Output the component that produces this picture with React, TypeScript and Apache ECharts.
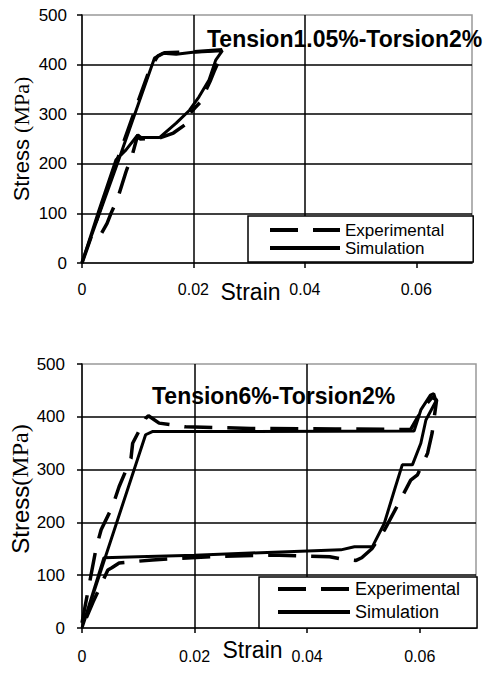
import { useEffect, useRef } from "react";
import * as echarts from "echarts";

const FONT = "'Liberation Sans', Arial, sans-serif";
const SERIF = "'Liberation Serif', 'Times New Roman', serif";

const strainTicks = [0, 0.02, 0.04, 0.06];
const seriesNames = ["Experimental", "Simulation"];
const titleTop = "Tension1.05%-Torsion2%";
const titleBottom = "Tension6%-Torsion2%";

// Top chart: Tension 1.05% - Torsion 2%
const simTop: [number, number][] = [
  [0, 2], [0.0065, 205], [0.013, 413], [0.0145, 423], [0.0169, 421], [0.0199, 425],
  [0.0252, 428], [0.024, 409], [0.0228, 369], [0.021, 335], [0.0193, 308],
  [0.0169, 282], [0.0139, 253], [0.0106, 253], [0.01, 258], [0.0079, 228],
  [0.0061, 208], [0.003, 105], [0, 0],
];
const expTopUpper: [number, number][] = [
  [0, 0], [0.0015, 48], [0.0045, 150], [0.0102, 330], [0.0122, 392], [0.0136, 417],
  [0.0148, 424], [0.02, 426], [0.0252, 430], [0.0246, 409], [0.0237, 386],
  [0.0231, 369], [0.0213, 325], [0.0202, 312], [0.0195, 303],
];
const expTopLower: [number, number][] = [
  [0.0184, 278], [0.0164, 262], [0.0139, 252], [0.0104, 250], [0.01, 258],
  [0.0091, 221], [0.0079, 184], [0.0064, 130], [0.0052, 100], [0.0045, 80], [0.0028, 46],
];

// Bottom chart: Tension 6% - Torsion 2%
const simBottom: [number, number][] = [
  [0, 0], [0.0113, 366], [0.0125, 372], [0.03, 372], [0.059, 373], [0.0602, 413],
  [0.0619, 441], [0.0625, 444], [0.0629, 430], [0.0611, 394], [0.0602, 350],
  [0.0587, 309], [0.0569, 309], [0.0555, 261], [0.0537, 198], [0.0516, 154],
  [0.0484, 154], [0.046, 148], [0.03, 142], [0.02, 138], [0.01, 135], [0.0039, 133], [0, 0],
];
const expBottom: [number, number][] = [
  [0, 10], [0.0025, 151], [0.0034, 186], [0.0054, 230], [0.0066, 268], [0.0087, 321],
  [0.009, 350], [0.0113, 397], [0.0118, 402], [0.0137, 388], [0.0184, 381],
  [0.03, 378], [0.045, 377], [0.0584, 376], [0.0605, 415], [0.0622, 437],
  [0.063, 432], [0.0622, 369], [0.0614, 331], [0.0596, 290], [0.0584, 280],
  [0.0558, 227], [0.0537, 185], [0.0515, 150], [0.0497, 133], [0.0487, 128],
  [0.046, 131], [0.044, 135], [0.035, 138], [0.025, 136], [0.0125, 129],
  [0.0066, 123], [0.0053, 114], [0.0046, 110], [0.002, 50], [0, 0],
];

const black = "#000";
const solidStyle = { color: black, width: 3 };
const dashStyle = { color: black, width: 3.5, type: [28, 15] as number[] };

function xAxisFor(grid: number, labelMargin: number, nameGap: number) {
  return {
    type: "value",
    gridIndex: grid,
    min: 0,
    max: 0.07,
    interval: 0.02,
    name: "Strain",
    nameLocation: "middle",
    nameGap,
    nameMoveOverlap: false,
    nameTextStyle: { fontSize: 23, color: black, fontFamily: FONT, padding: [0, 53, 0, 0] },
    axisLine: { onZero: false, lineStyle: { color: black, width: 1.5 } },
    axisTick: { show: true, length: 5, lineStyle: { color: black, width: 1.5 }, customValues: strainTicks },
    axisLabel: {
      fontSize: 16,
      color: black,
      fontFamily: FONT,
      margin: labelMargin,
      customValues: strainTicks,
      formatter: (v: number) => (v === 0 ? "0" : v.toFixed(2)),
    },
    splitLine: { show: true, showMinLine: false, showMaxLine: false, lineStyle: { color: black, width: 1.5 } },
  };
}

function yAxisFor(grid: number, name: string, fontSize: number, nameGap: number, labelMargin: number, shift: number) {
  return {
    type: "value",
    gridIndex: grid,
    min: 0,
    max: 500,
    interval: 100,
    name,
    nameLocation: "middle",
    nameGap,
    nameMoveOverlap: false,
    nameTextStyle: {
      fontSize,
      color: black,
      fontFamily: FONT,
      padding: [0, 0, 0, shift],
      rich: { t: { fontSize, color: black, fontFamily: SERIF } },
    },
    axisLine: { onZero: false, lineStyle: { color: black, width: 1.5 } },
    axisTick: { show: true, length: 5, lineStyle: { color: black, width: 1.5 } },
    axisLabel: { fontSize: 17, color: black, fontFamily: FONT, margin: labelMargin },
    splitLine: { show: true, showMinLine: false, showMaxLine: false, lineStyle: { color: black, width: 1.5 } },
  };
}

export default function App() {
  const ref = useRef<HTMLDivElement>(null);
  useEffect(() => {
    if (!ref.current) return;
    const chart = echarts.init(ref.current, null, { renderer: "svg" });
    chart.setOption({
      animation: false,
      backgroundColor: "#fff",
      color: [black, black],
      title: [
        { text: titleTop, left: 207, top: 27, padding: 0, textStyle: { fontSize: 23, fontWeight: "bold", fontFamily: FONT, color: black } },
        { text: titleBottom, left: 152, top: 384, padding: 0, textStyle: { fontSize: 23, fontWeight: "bold", fontFamily: FONT, color: black } },
      ],
      grid: [
        { left: 82, top: 15, width: 390, height: 248, show: true, borderColor: "#999", borderWidth: 1.5, backgroundColor: "transparent" },
        { left: 80, top: 364, width: 396, height: 264, show: true, borderColor: "#999", borderWidth: 1.5, backgroundColor: "transparent" },
      ],
      xAxis: [xAxisFor(0, 18, 17), xAxisFor(1, 20, 10)],
      yAxis: [
        yAxisFor(0, "Stress {t|(MPa)}", 22, 50, 15, 0),
        yAxisFor(1, "Stress{t|(MPa)}", 24, 50, 17, 14),
      ],
      legend: [
        {
          left: 248, top: 216, orient: "vertical", align: "left",
          itemWidth: 70, itemHeight: 18, itemGap: 0, itemTextGap: 6,
          padding: [5, 29, 5, 20],
          backgroundColor: "#fff", borderColor: black, borderWidth: 1.5,
          itemStyle: { opacity: 0 },
          lineStyle: { width: 4 },
          textStyle: { fontSize: 17, lineHeight: 18, color: black, fontFamily: FONT },
          selectedMode: false,
          data: seriesNames,
        },
        {
          left: 259, top: 577, orient: "vertical", align: "left",
          itemWidth: 72, itemHeight: 22, itemGap: 1, itemTextGap: 5,
          padding: [1, 17, 5, 17],
          backgroundColor: "#fff", borderColor: black, borderWidth: 1.5,
          itemStyle: { opacity: 0 },
          lineStyle: { width: 4 },
          textStyle: { fontSize: 18, lineHeight: 22, color: black, fontFamily: FONT },
          selectedMode: false,
          data: seriesNames,
        },
      ],
      series: [
        { name: "Simulation", type: "line", xAxisIndex: 0, yAxisIndex: 0, data: simTop, symbol: "none", itemStyle: { color: black }, lineStyle: solidStyle, silent: true },
        { name: "Experimental", type: "line", xAxisIndex: 0, yAxisIndex: 0, data: expTopUpper, symbol: "none", itemStyle: { color: black }, lineStyle: dashStyle, silent: true },
        { name: "Experimental", type: "line", xAxisIndex: 0, yAxisIndex: 0, data: expTopLower, symbol: "none", itemStyle: { color: black }, lineStyle: dashStyle, silent: true },
        { name: "Simulation", type: "line", xAxisIndex: 1, yAxisIndex: 1, data: simBottom, symbol: "none", itemStyle: { color: black }, lineStyle: solidStyle, silent: true },
        { name: "Experimental", type: "line", xAxisIndex: 1, yAxisIndex: 1, data: expBottom, symbol: "none", itemStyle: { color: black }, lineStyle: dashStyle, silent: true },
      ],
    });
    return () => chart.dispose();
  }, []);
  return <div ref={ref} style={{ position: "absolute", left: 0, top: 0, width: 492, height: 673 }} />;
}
